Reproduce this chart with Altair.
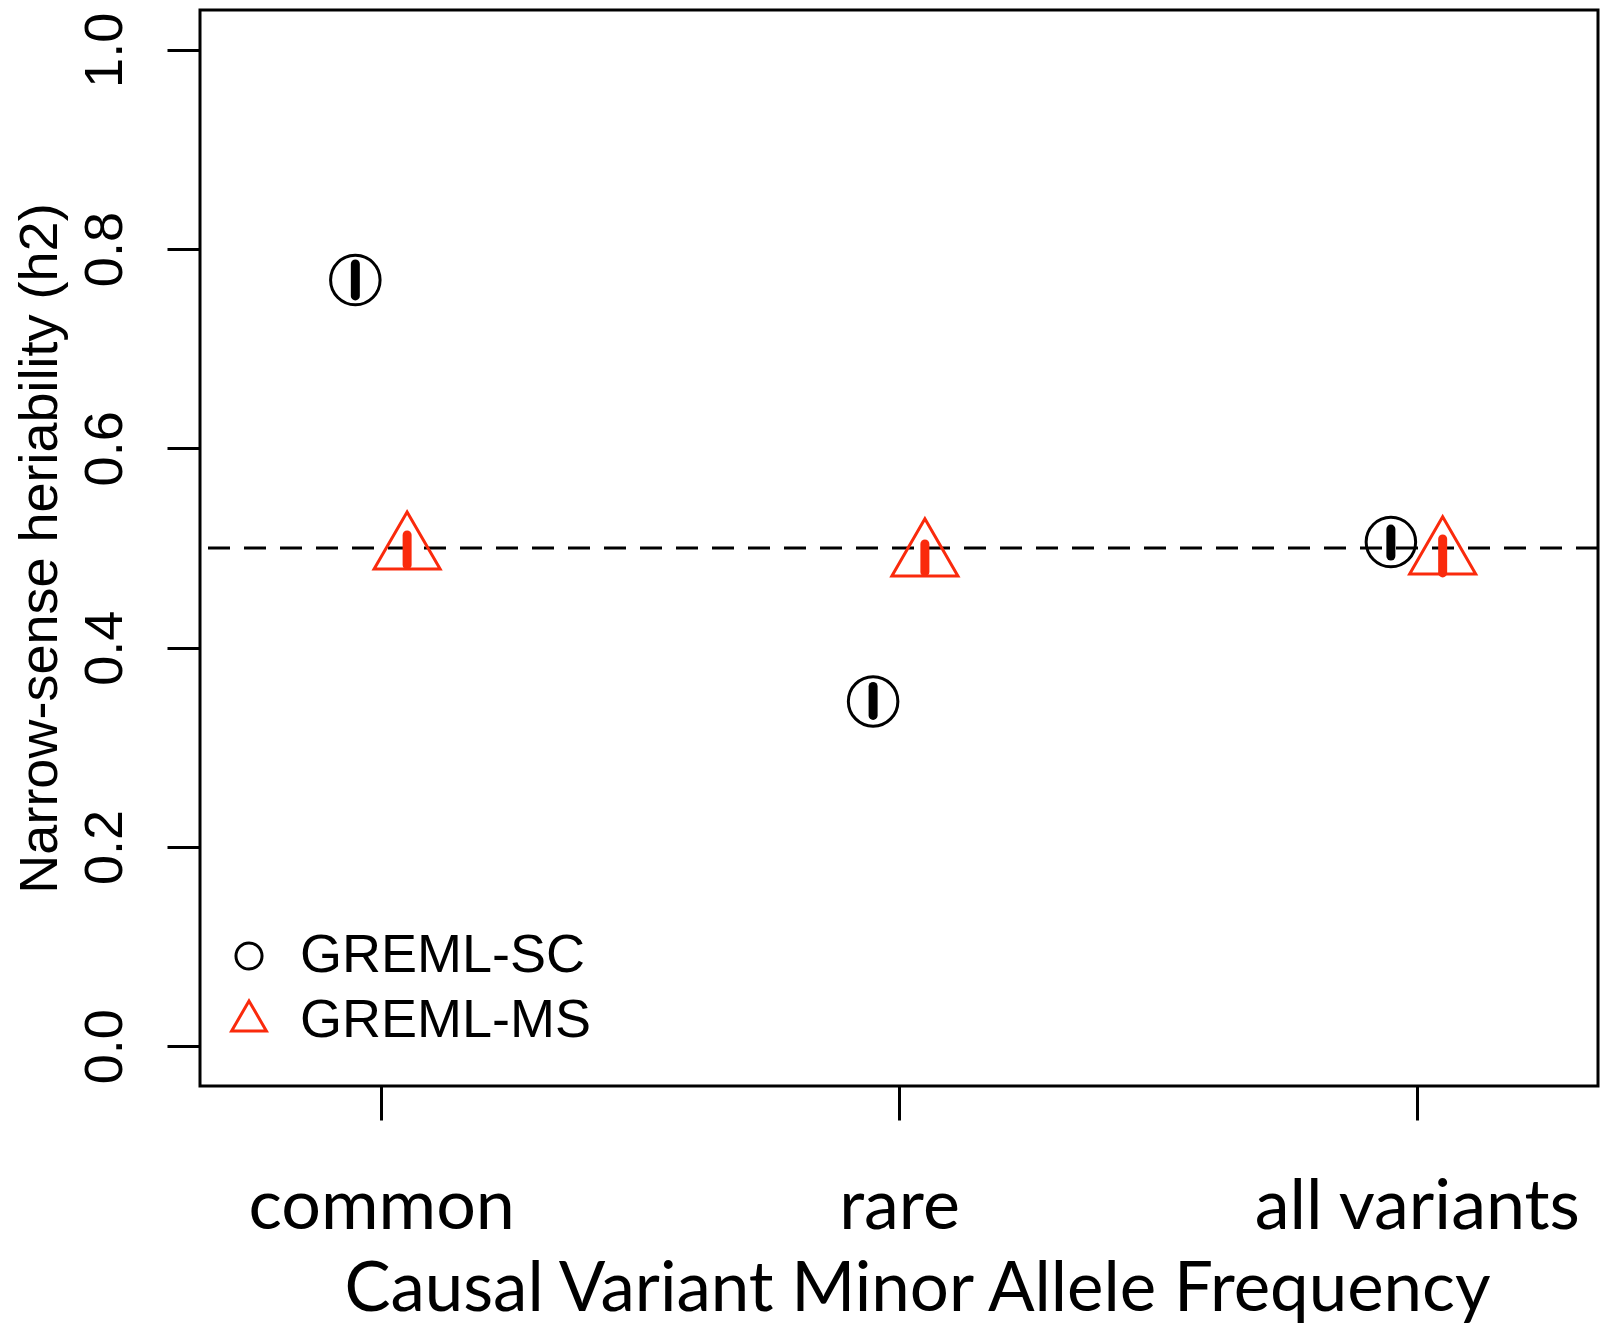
import altair as alt
import pandas as pd

# ---- data ----
categories = ["common", "rare", "all variants"]
cat_pos = [1, 2, 3]
methods = ["GREML-SC", "GREML-MS"]
method_offset = [-0.05, 0.05]
sc_est = [0.769, 0.346, 0.506]
sc_lo = [0.753, 0.332, 0.492]
sc_hi = [0.785, 0.361, 0.519]
ms_est = [0.498, 0.491, 0.493]
ms_lo = [0.483, 0.476, 0.475]
ms_hi = [0.513, 0.504, 0.509]
true_h2 = [0.5]
y_ticks = [0.0, 0.2, 0.4, 0.6, 0.8, 1.0]

rows = []
for m, off, est, lo, hi in [
    (methods[0], method_offset[0], sc_est, sc_lo, sc_hi),
    (methods[1], method_offset[1], ms_est, ms_lo, ms_hi),
]:
    for c, p, e, l, h in zip(categories, cat_pos, est, lo, hi):
        rows.append({"method": m, "cat": c, "x": p + off, "est": e, "lo": l, "hi": h})
df = pd.DataFrame(rows)

RED = "#FA2A0C"
TRI = "M0,-1.54L1.334,0.77L-1.334,0.77Z"

label_expr = " : ".join(
    f"datum.value == {p} ? '{c}'" for p, c in zip(cat_pos[:-1], categories[:-1])
) + f" : '{categories[-1]}'"

xscale = alt.Scale(domain=[0.65, 3.35], nice=False, zero=False)
yscale = alt.Scale(domain=[-0.04, 1.04], nice=False, zero=False)

x_axis = alt.Axis(
    values=cat_pos, labelExpr=label_expr, grid=False, domain=False,
    tickSize=34, tickWidth=3, tickColor="black",
    labelFont="Lato", labelFontSize=70, labelColor="black", labelLimit=0,
    labelBaseline="alphabetic", labelPadding=108, labelAlign="center",
    title="Causal Variant Minor Allele Frequency", titleFont="Lato",
    titleFontSize=69, titleFontWeight="normal", titleColor="black",
    titleBaseline="alphabetic", titleAlign="center", titleX=717, titleY=224,
    titleLimit=0,
)
y_axis = alt.Axis(
    values=y_ticks, format=".1f", grid=False, domain=False,
    tickSize=33, tickWidth=3, tickColor="black",
    labelFont="Liberation Sans", labelFontSize=54, labelColor="black",
    labelAngle=270, labelAlign="center", labelBaseline="alphabetic",
    labelPadding=46, labelLimit=0,
    title="Narrow-sense heriability (h2)", titleFont="Liberation Sans",
    titleFontSize=54, titleFontWeight="normal", titleColor="black",
    titleAngle=270, titleBaseline="alphabetic", titleAlign="center",
    titleX=-144, titleY=538, titleLimit=0,
)

color_scale = alt.Scale(domain=methods, range=["black", RED])
shape_scale = alt.Scale(domain=methods, range=["circle", TRI])

base = alt.Chart(df)

hline = alt.Chart(pd.DataFrame({"h": true_h2})).mark_rule(
    strokeDash=[22, 14], strokeWidth=3, color="black"
).encode(y=alt.Y("h:Q", scale=yscale, axis=y_axis))

legend = alt.Legend(
    orient="none", legendX=22, legendY=919, title=None,
    symbolSize=680, symbolStrokeWidth=3, labelFont="Liberation Sans",
    labelFontSize=54, labelColor="black", rowPadding=11, labelOffset=24,
    padding=0, symbolFillColor="transparent", labelLimit=0,
)

points = base.mark_point(filled=False, strokeWidth=3, size=2450, opacity=1).encode(
    x=alt.X("x:Q", scale=xscale, axis=x_axis),
    y=alt.Y("est:Q", scale=yscale),
    color=alt.Color("method:N", scale=color_scale, legend=legend),
    shape=alt.Shape("method:N", scale=shape_scale, legend=legend),
)

bars = base.mark_rule(strokeWidth=9, strokeCap="round").encode(
    x=alt.X("x:Q", scale=xscale),
    y=alt.Y("lo:Q", scale=yscale),
    y2="hi:Q",
    color=alt.Color("method:N", scale=color_scale, legend=None),
)

chart = alt.layer(hline, points, bars).properties(
    width=1398, height=1076,
    autosize=alt.AutoSizeParams(type="none"),
    padding={"left": 200, "top": 10, "right": 2, "bottom": 245},
    background="white",
).configure_view(stroke="black", strokeWidth=3)

chart.save("out.html", embed_options={"renderer": "svg", "actions": False})
